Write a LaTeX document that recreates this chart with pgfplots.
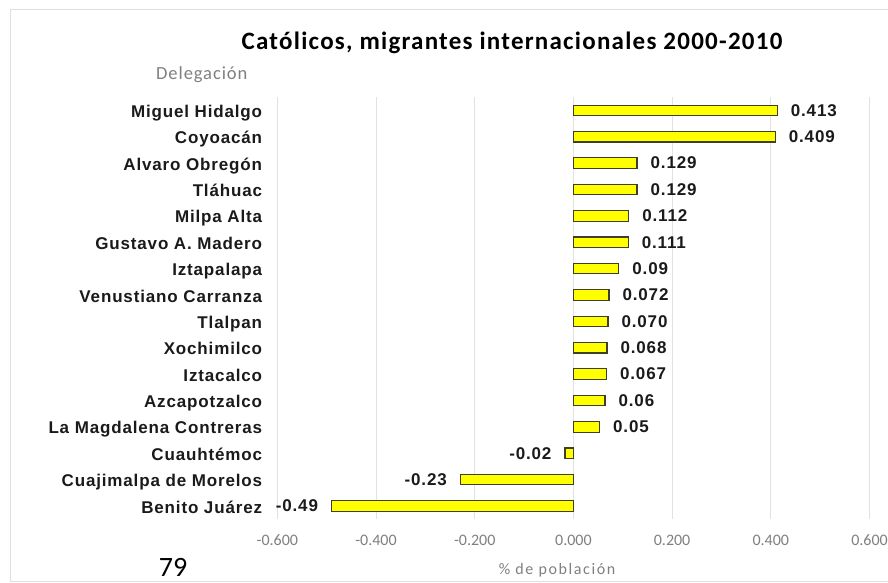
\documentclass[border=0pt]{standalone}
\usepackage{fontspec}
\setmainfont{Carlito}
\newfontfamily\lab{Liberation Sans}[LetterSpace=5]
\newfontfamily\axfont{Carlito}[LetterSpace=10]
\newfontfamily\titlefont{Carlito}[LetterSpace=5]
\newfontfamily\catfont{Carlito}[LetterSpace=5]
\usepackage{pgfplots}
\pgfplotsset{compat=1.18}
\definecolor{baryellow}{HTML}{FFFF00}
\definecolor{baredge}{HTML}{3F3F26}
\definecolor{gridgray}{HTML}{E2E2E2}
\definecolor{tickgray}{HTML}{7F7F7F}
\definecolor{labblack}{HTML}{1A1A1A}
\begin{document}
\begin{tikzpicture}[x=1pt,y=1pt]
\useasboundingbox (0,0) rectangle (888,583);
\clip (0,0) rectangle (888,583);
\draw[gray!25, line width=1pt] (10,1) rectangle (900,573);
\begin{axis}[
  at={(277.3pt,63.8pt)}, anchor=south west,
  scale only axis, width=592.2pt, height=422pt,
  xbar, bar width=10.5pt, bar shift=0pt,
  xmin=-0.6, xmax=0.6, ymin=-0.5, ymax=15.5, y dir=reverse,
  axis line style={draw=none},
  major tick length=0pt,
  xmajorgrids, grid style={gridgray, line width=1pt},
  xtick={-0.6,-0.4,-0.2,0,0.2,0.4,0.6},
  xticklabels={-0.600,-0.400,-0.200,0.000,0.200,0.400,0.600},
  xticklabel style={anchor=base, yshift=-26pt, text=tickgray, font=\fontsize{16}{18}\selectfont},
  ytick={0,...,15},
  yticklabels={Miguel Hidalgo,Coyoacán,Alvaro Obregón,Tláhuac,Milpa Alta,Gustavo A. Madero,Iztapalapa,Venustiano Carranza,Tlalpan,Xochimilco,Iztacalco,Azcapotzalco,La Magdalena Contreras,Cuauhtémoc,Cuajimalpa de Morelos,Benito Juárez},
  yticklabel style={anchor=base east, inner sep=0pt, xshift=-15pt, yshift=-7pt, text=labblack, font=\lab\bfseries\fontsize{17}{20}\selectfont},
  nodes near coords,
  point meta=explicit symbolic,
]
% positive values, labels to the right
\addplot[fill=baryellow, draw=baredge, line width=1.2pt,
  every node near coord/.append style={anchor=west, inner xsep=13pt, text=labblack, font=\lab\bfseries\fontsize{17}{20}\selectfont}]
coordinates {
(0.413,0) [0.413]
(0.409,1) [0.409]
(0.129,2) [0.129]
(0.129,3) [0.129]
(0.112,4) [0.112]
(0.111,5) [0.111]
(0.092,6) [0.09]
(0.072,7) [0.072]
(0.070,8) [0.070]
(0.068,9) [0.068]
(0.067,10) [0.067]
(0.064,11) [0.06]
(0.053,12) [0.05]
};
% negative values, labels to the left
\addplot[fill=baryellow, draw=baredge, line width=1.2pt,
  every node near coord/.append style={anchor=east, inner xsep=13pt, text=labblack, font=\lab\bfseries\fontsize{17}{20}\selectfont}]
coordinates {
(-0.017,13) [-0.02]
(-0.229,14) [-0.23]
(-0.490,15) [-0.49]
};
\end{axis}
\node[anchor=base, font=\titlefont\bfseries\fontsize{25}{28}\selectfont] at (512,533) {Católicos, migrantes internacionales 2000-2010};
\node[anchor=base west, inner sep=0pt, text=tickgray, font=\catfont\fontsize{18.5}{20}\selectfont] at (156,503) {Delegación};
\node[anchor=base, inner sep=0pt, text=tickgray, font=\axfont\fontsize{16}{18}\selectfont] at (557,9) {\% de población};
\node[anchor=base, inner sep=0pt, font=\fontsize{28}{30}\selectfont] at (173,6) {79};
\end{tikzpicture}
\end{document}
